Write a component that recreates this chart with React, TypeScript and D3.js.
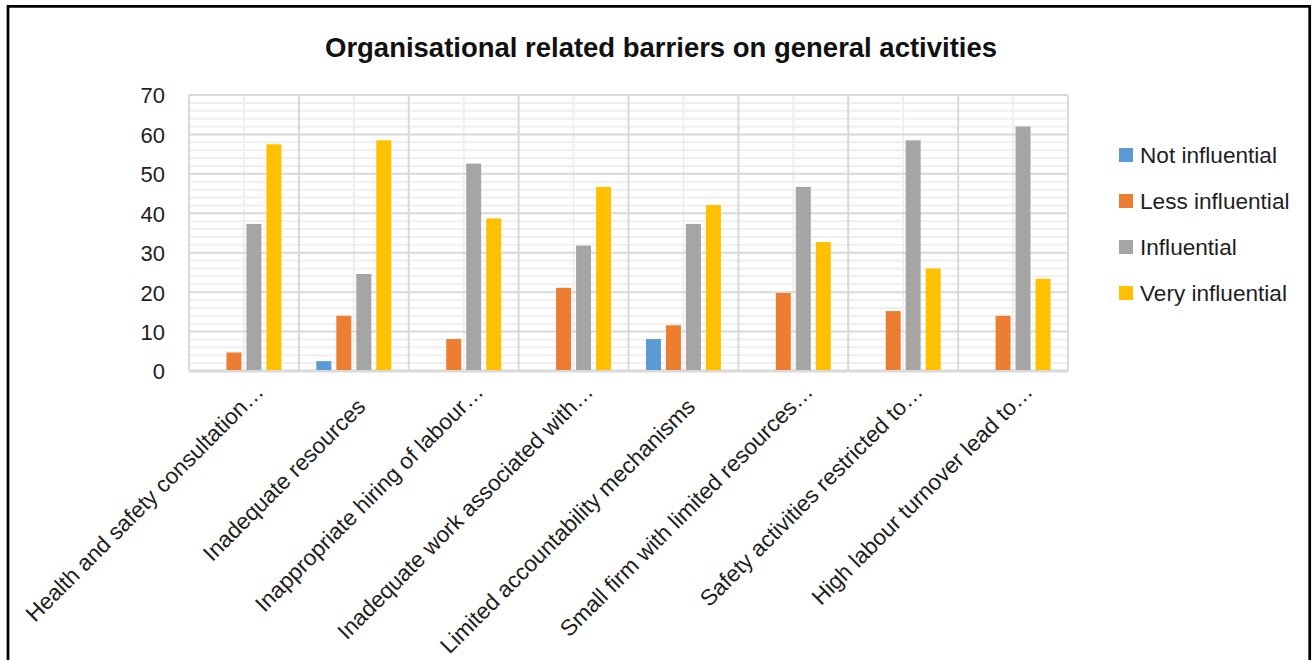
import React from "react";
import * as d3 from "d3";

const categories = [
  "Health and safety consultation…",
  "Inadequate resources",
  "Inappropriate hiring of labour…",
  "Inadequate work associated with…",
  "Limited accountability mechanisms",
  "Small firm with limited resources…",
  "Safety activities restricted to…",
  "High labour turnover lead to…",
];

const seriesNames = ["Not influential", "Less influential", "Influential", "Very influential"];
const seriesColors = ["#5b9bd5", "#ed7d31", "#a5a5a5", "#ffc000"];

const notInfluential = [0, 2.5, 0, 0, 8.1, 0, 0, 0];
const lessInfluential = [4.7, 14, 8.1, 21.1, 11.6, 19.8, 15.2, 14];
const influential = [37.3, 24.6, 52.6, 31.8, 37.3, 46.7, 58.5, 62];
const veryInfluential = [57.5, 58.5, 38.7, 46.7, 42.1, 32.7, 26, 23.4];

const seriesValues = [notInfluential, lessInfluential, influential, veryInfluential];
const yTicks = [0, 10, 20, 30, 40, 50, 60, 70];

const W = 1312;
const H = 660;
const PL = 189;
const PR = 1068;
const PT = 95;
const PB = 371;

export default function App() {
  const x0 = d3.scaleBand<string>().domain(categories).range([PL, PR]).padding(0);
  const step = x0.bandwidth();
  const x1 = d3
    .scaleBand<string>()
    .domain(seriesNames)
    .range([step * 0.159, step * 0.841])
    .paddingInner(0.25)
    .paddingOuter(0);
  const y = d3.scaleLinear().domain([0, 70]).range([PB, PT]);
  const minor = d3.range(0, 71, 2).filter((v) => v % 10 !== 0);
  const font = "'Liberation Sans', Arial, sans-serif";
  const textColor = "#1e1e1e";

  return (
    <svg
      width={W}
      height={H}
      style={{ position: "absolute", left: 0, top: 0, background: "#fff" }}
      fontFamily={font}
    >
      <rect x={0} y={0} width={W} height={H} fill="#fff" />
      {minor.map((v) => (
        <line key={"mh" + v} x1={PL} x2={PR} y1={y(v)} y2={y(v)} stroke="#efefef" strokeWidth={2} />
      ))}
      {categories.map((c) => (
        <line
          key={"mv" + c}
          x1={(x0(c) as number) + step / 2}
          x2={(x0(c) as number) + step / 2}
          y1={PT}
          y2={PB}
          stroke="#efefef"
          strokeWidth={2}
        />
      ))}
      {yTicks.map((v) => (
        <line key={"h" + v} x1={PL} x2={PR} y1={y(v)} y2={y(v)} stroke="#d9d9d9" strokeWidth={2} />
      ))}
      {categories.map((c) => (
        <line
          key={"v" + c}
          x1={x0(c) as number}
          x2={x0(c) as number}
          y1={PT}
          y2={PB}
          stroke="#d9d9d9"
          strokeWidth={2}
        />
      ))}
      <line x1={PR} x2={PR} y1={PT} y2={PB} stroke="#d9d9d9" strokeWidth={2} />
      <line x1={PL} x2={PR} y1={PB} y2={PB} stroke="#d9d9d9" strokeWidth={3} />

      {seriesValues.map((vals, si) =>
        vals.map((v, ci) =>
          v > 0 ? (
            <rect
              key={"b" + si + "-" + ci}
              x={(x0(categories[ci]) as number) + (x1(seriesNames[si]) as number)}
              y={y(v)}
              width={x1.bandwidth()}
              height={y(0) - y(v) - 1}
              fill={seriesColors[si]}
            />
          ) : null
        )
      )}

      {yTicks.map((v) => (
        <text
          key={"yt" + v}
          x={165}
          y={y(v)}
          dy="0.38em"
          textAnchor="end"
          fontSize={22}
          fill={textColor}
        >
          {v}
        </text>
      ))}

      {categories.map((c) => {
        const cx = (x0(c) as number) + step / 2;
        const ell = c.endsWith("…");
        const tx = ell ? cx + 21 : cx + 13;
        const ty = ell ? 393 : 408;
        return (
          <text
            key={"xl" + c}
            transform={`translate(${tx},${ty}) rotate(-45)`}
            textAnchor="end"
            fontSize={22.6}
            fill={textColor}
          >
            {c}
          </text>
        );
      })}

      <text
        x={661}
        y={57}
        textAnchor="middle"
        fontSize={28}
        fontWeight="bold"
        fill="#111"
        textLength={672}
        lengthAdjust="spacingAndGlyphs"
      >
        Organisational related barriers on general activities
      </text>

      {seriesNames.map((s, i) => {
        const cy = 155 + i * 46;
        return (
          <g key={"lg" + s}>
            <rect x={1119} y={cy - 7} width={14} height={14} fill={seriesColors[i]} />
            <text x={1140} y={cy} dy="0.36em" fontSize={22.6} fill={textColor}>
              {s}
            </text>
          </g>
        );
      })}

      <path d={`M8,${H + 10} V6.3 H1309.7 V${H + 10}`} fill="none" stroke="#000" strokeWidth={2.7} />
    </svg>
  );
}
